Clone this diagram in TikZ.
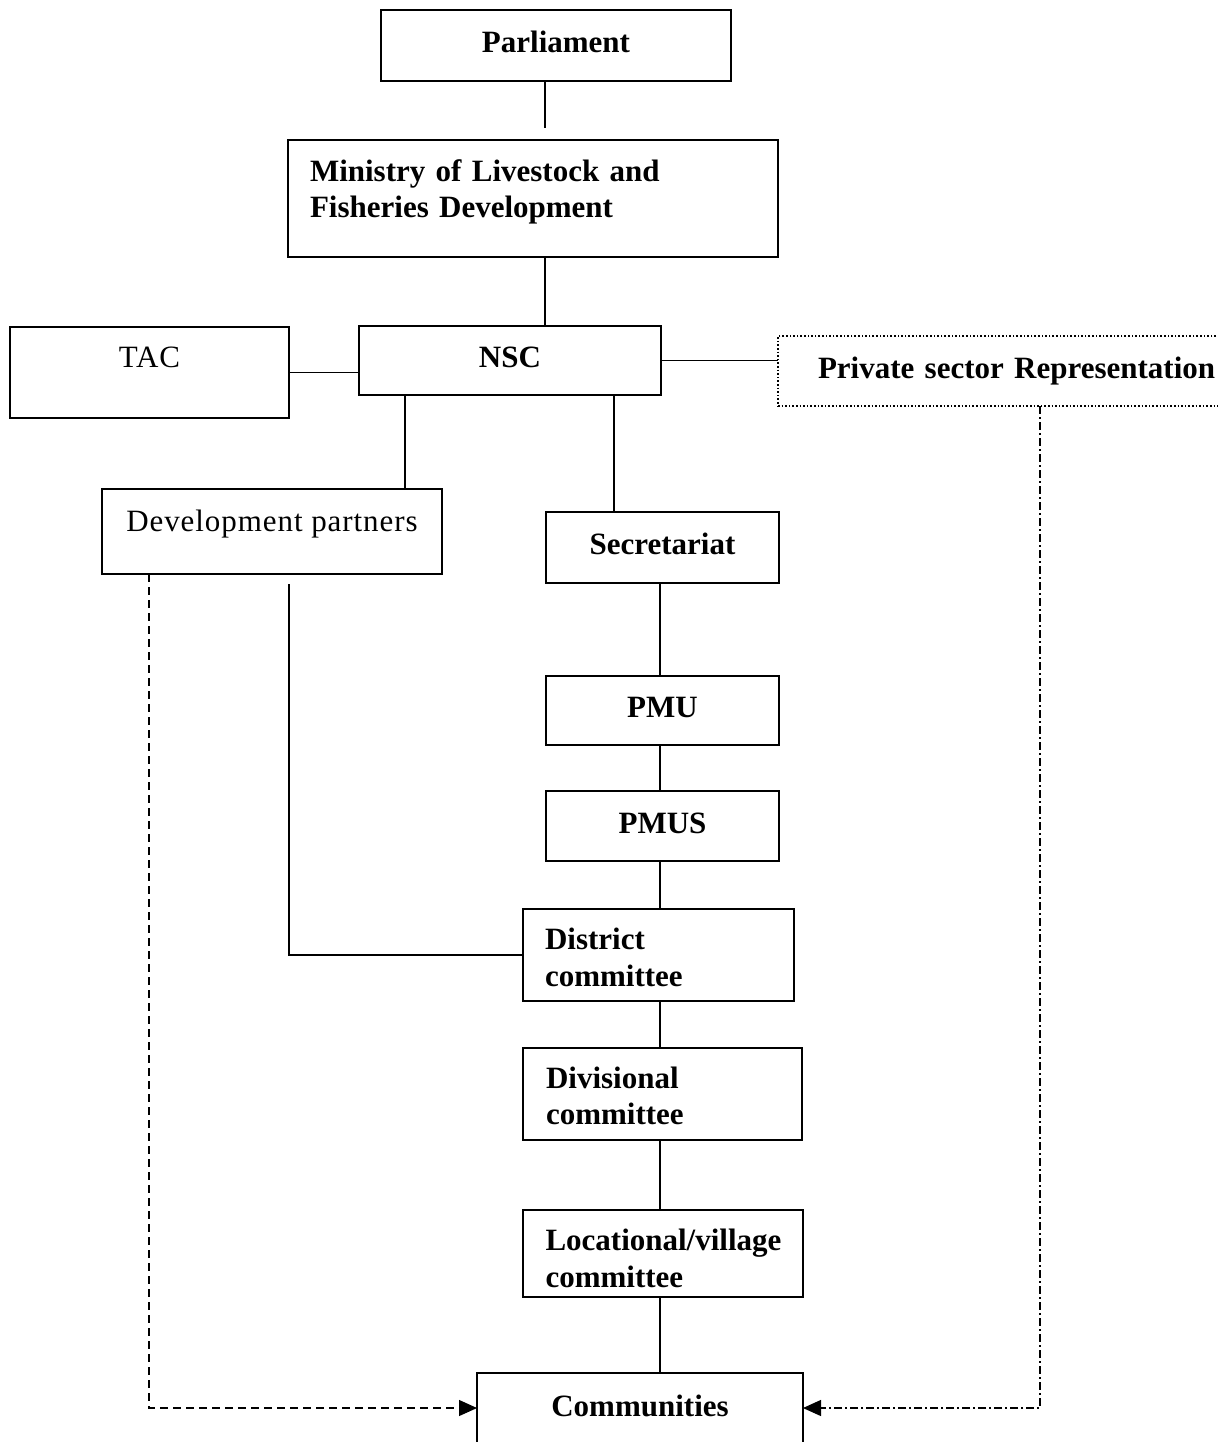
\documentclass[tikz,border=0pt]{standalone}
\usepackage{fontspec}
\setmainfont{Liberation Serif}
\newfontfamily\spacedfont[LetterSpace=3]{Liberation Serif}
\usetikzlibrary{positioning, arrows.meta}

\begin{document}
\begin{tikzpicture}[
  x=0.5pt, y=-0.5pt,
  box/.style={draw,line width=1pt,inner sep=0pt,outer sep=0pt,font=\fontsize{15.5}{18.6}\selectfont\bfseries,text height=10.5pt,text depth=#1},
  box/.default=0pt,
  plain/.style={box=#1,font=\fontsize{15.5}{18.6}\selectfont\spacedfont},
  lbox/.style={draw,line width=1pt,inner ysep=0pt,outer sep=0pt,align=left,font=\fontsize{15.5}{18.2}\selectfont\bfseries,text height=10.5pt,text depth=#1},
  link/.style={line width=0.75pt},
  dashlink/.style={line width=0.6pt,dash pattern=on 4pt off 2.5pt},
  dotlink/.style={line width=0.6pt,dash pattern=on 4pt off 1.5pt on 1pt off 1.5pt},
  tip/.style={-{Triangle[length=9pt,width=8pt]}},
]
\useasboundingbox (0,0) rectangle (1218,1442);

\node[box=3.5pt,minimum width=175pt,minimum height=35.5pt] (parl) at (556,45.5) {Parliament};
\node[lbox=27.7pt,minimum height=58.5pt,text width=223pt,inner xsep=11pt,below=29.5pt of parl,xshift=-11.5pt] (min) {Ministry of Livestock and\\Fisheries Development};
\node[box=3.5pt,minimum width=151pt,minimum height=34.5pt,below=34.5pt of min,xshift=-11.5pt] (nsc) {NSC};
\node[plain=15.5pt,minimum width=139.5pt,minimum height=45.5pt,left=35pt of nsc,yshift=-6pt] (tac) {TAC};
\node[box=3pt,minimum height=35pt,text width=205pt,align=left,inner xsep=20pt,line width=0.8pt,densely dotted,right=58.5pt of nsc,yshift=-5.25pt] (priv) {Private sector Representation};
\node[plain=10.5pt,minimum width=170pt,minimum height=42.5pt,below=35.5pt of tac,xshift=61.25pt] (dev) {Development partners};

\node[box=3.5pt,minimum width=116.5pt,minimum height=35.5pt,below=58.5pt of nsc,xshift=76.25pt] (sec) {Secretariat};
\node[box=3.5pt,minimum width=116.5pt,minimum height=34.5pt,below=46.5pt of sec] (pmu) {PMU};
\node[box=3pt,minimum width=116.5pt,minimum height=35pt,below=23pt of pmu] (pmus) {PMUS};
\node[lbox=15.7pt,text width=113.5pt,inner xsep=11pt,minimum height=46pt,below=24pt of pmus,xshift=-2pt] (dist) {District\\committee};
\node[lbox=16.2pt,text width=116.5pt,inner xsep=11.5pt,minimum height=46pt,below=23.5pt of dist,xshift=2pt] (div) {Divisional\\committee};
\node[lbox=13.2pt,text width=117pt,inner xsep=11.5pt,minimum height=43.5pt,below=35pt of div] (loc) {Locational/village\\committee};
\node[box=17pt,minimum width=163pt,minimum height=50pt,below=38pt of loc,xshift=-11.25pt] (com) {Communities};

\coordinate (trunk) at ([xshift=-5.5pt]parl.south);
\coordinate (col) at ([xshift=-1.25pt]sec.south);

\draw[link,shorten >=6pt] (parl.south -| trunk) -- (min.north -| trunk);
\draw[link] (min.south -| trunk) -- (nsc.north -| trunk);
\draw[link] (tac.east) -- (tac.east -| nsc.west);
\draw[link] (nsc.east) -- (nsc.east -| priv.west);
\draw[link] ([xshift=-52.5pt]nsc.south) -- ([xshift=-52.5pt]nsc.south |- dev.north);
\draw[link] ([xshift=52pt]nsc.south) -- ([xshift=52pt]nsc.south |- sec.north);
\foreach \a/\b in {sec/pmu,pmu/pmus,pmus/dist,dist/div,div/loc,loc/com}
  \draw[link] (\a.south -| col) -- (\b.north -| col);
\draw[link] ([xshift=8.5pt,yshift=-5pt]dev.south) |- (dist.west);

% dashed links to communities
\draw[dashlink,tip] ([xshift=-61.5pt]dev.south) |- ([yshift=-17.5pt]com.north west);
\draw[dotlink,tip] ([xshift=131pt]priv.south west) |- ([yshift=-17.5pt]com.north east);

\end{tikzpicture}
\end{document}
